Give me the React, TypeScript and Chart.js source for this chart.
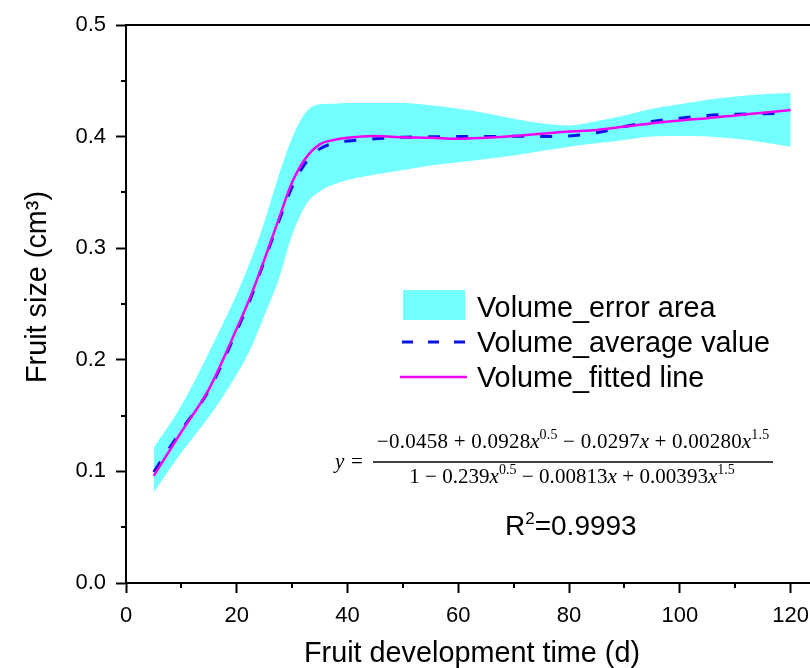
import React, { useEffect, useRef } from 'react';
import { Chart, registerables } from 'chart.js';

Chart.register(...registerables);

// ---- data ----
const days = [5, 10, 15, 20, 22.5, 25, 27.5, 30, 32.5, 35, 37.5, 40, 45, 50, 55, 60, 65, 70, 75, 80, 85, 90, 95, 100, 105, 110, 115, 120];
const averageValue = [0.0995, 0.137, 0.173, 0.226, 0.255, 0.289, 0.323, 0.355, 0.377, 0.389, 0.394, 0.396, 0.398, 0.3995, 0.3998, 0.4, 0.4, 0.4003, 0.4, 0.4005, 0.4035, 0.409, 0.4135, 0.4165, 0.419, 0.42, 0.4205, 0.421];
const fittedLine = [0.096, 0.1355, 0.174, 0.228, 0.257, 0.29, 0.325, 0.359, 0.381, 0.393, 0.397, 0.399, 0.4005, 0.3995, 0.399, 0.398, 0.399, 0.4005, 0.4025, 0.4045, 0.406, 0.409, 0.412, 0.4145, 0.4165, 0.419, 0.4213, 0.4238];
const errorUpper = [0.121, 0.159, 0.207, 0.259, 0.289, 0.324, 0.364, 0.399, 0.422, 0.429, 0.4295, 0.43, 0.43, 0.43, 0.428, 0.425, 0.421, 0.416, 0.412, 0.41, 0.414, 0.419, 0.425, 0.429, 0.433, 0.436, 0.438, 0.439];
const errorLower = [0.081, 0.117, 0.149, 0.187, 0.21, 0.24, 0.271, 0.312, 0.339, 0.351, 0.357, 0.361, 0.366, 0.37, 0.374, 0.377, 0.38, 0.383, 0.387, 0.391, 0.394, 0.397, 0.4, 0.4005, 0.4, 0.398, 0.395, 0.391];

const xTickValues = [0, 20, 40, 60, 80, 100, 120];
const xMinorTicks = [10, 30, 50, 70, 90, 110];
const yTickValues = [0, 0.1, 0.2, 0.3, 0.4, 0.5];
const yMinorTicks = [0.05, 0.15, 0.25, 0.35, 0.45];

const legendLabels = ['Volume_error area', 'Volume_average value', 'Volume_fitted line'];
const xTitle = 'Fruit development time (d)';
const yTitle = 'Fruit size (cm\u00B3)';

const numeratorParts = [
  { t: '\u22120.0458 + 0.0928' }, { t: 'x', i: true }, { t: '0.5', s: true },
  { t: ' \u2212 0.0297' }, { t: 'x', i: true },
  { t: ' + 0.00280' }, { t: 'x', i: true }, { t: '1.5', s: true },
];
const denominatorParts = [
  { t: '1 \u2212 0.239' }, { t: 'x', i: true }, { t: '0.5', s: true },
  { t: ' \u2212 0.00813' }, { t: 'x', i: true },
  { t: ' + 0.00393' }, { t: 'x', i: true }, { t: '1.5', s: true },
];
const rSquaredValue = '0.9993';

const CYAN = 'rgb(115,255,255)';
const BLUE = '#0a14e6';
const MAGENTA = '#f000f0';
const SANS = '"Liberation Sans", Arial, sans-serif';
const SERIF = '"Liberation Serif", "Times New Roman", serif';

type Part = { t: string; i?: boolean; s?: boolean };

function partFont(p: Part, size: number) {
  const sz = p.s ? Math.round(size * 0.68) : size;
  return `${p.i ? 'italic ' : ''}${sz}px ${SERIF}`;
}

function drawParts(ctx: CanvasRenderingContext2D, parts: Part[], cx: number, baseline: number, size: number, spacing: number) {
  let total = 0;
  for (const p of parts) {
    ctx.font = partFont(p, size);
    total += ctx.measureText(p.t).width + (p.t.length - 1) * spacing;
  }
  let x = cx - total / 2;
  ctx.textAlign = 'left';
  ctx.textBaseline = 'alphabetic';
  for (const p of parts) {
    ctx.font = partFont(p, size);
    for (const ch of p.t) {
      ctx.fillText(ch, x, p.s ? baseline - size * 0.42 : baseline);
      x += ctx.measureText(ch).width + spacing;
    }
    x -= spacing;
  }
}

const decorPlugin = {
  id: 'decor',
  afterDraw(chart: any) {
    const ctx: CanvasRenderingContext2D = chart.ctx;
    const xs = chart.scales.x;
    const ys = chart.scales.y;
    const area = chart.chartArea;
    ctx.save();
    ctx.strokeStyle = '#000';
    ctx.lineWidth = 2;
    // top frame line
    ctx.beginPath();
    ctx.moveTo(area.left - 1, area.top);
    ctx.lineTo(area.right, area.top);
    ctx.stroke();
    // minor ticks
    ctx.beginPath();
    for (const v of xMinorTicks) {
      const px = Math.round(xs.getPixelForValue(v));
      ctx.moveTo(px, area.bottom);
      ctx.lineTo(px, area.bottom + 5);
    }
    for (const v of yMinorTicks) {
      const py = Math.round(ys.getPixelForValue(v));
      ctx.moveTo(area.left, py);
      ctx.lineTo(area.left - 5, py);
    }
    ctx.stroke();

    // legend
    ctx.fillStyle = CYAN;
    ctx.fillRect(403, 290, 62, 30);
    ctx.strokeStyle = BLUE;
    ctx.lineWidth = 3;
    ctx.setLineDash([11, 15]);
    ctx.beginPath();
    ctx.moveTo(402, 342);
    ctx.lineTo(468, 342);
    ctx.stroke();
    ctx.setLineDash([]);
    ctx.strokeStyle = MAGENTA;
    ctx.lineWidth = 2.5;
    ctx.beginPath();
    ctx.moveTo(400, 377);
    ctx.lineTo(467, 377);
    ctx.stroke();
    ctx.fillStyle = '#000';
    ctx.font = `28.8px ${SANS}`;
    ctx.textAlign = 'left';
    ctx.textBaseline = 'alphabetic';
    ctx.fillText(legendLabels[0], 477, 317);
    ctx.fillText(legendLabels[1], 477, 352);
    ctx.fillText(legendLabels[2], 477, 387);

    // equation
    ctx.font = `italic 21px ${SERIF}`;
    ctx.fillText('y', 335, 468);
    ctx.font = `21px ${SERIF}`;
    ctx.fillText('=', 351, 468);
    drawParts(ctx, numeratorParts as Part[], 573, 448, 21, 0.25);
    ctx.strokeStyle = '#000';
    ctx.lineWidth = 1.5;
    ctx.beginPath();
    ctx.moveTo(373, 462);
    ctx.lineTo(773, 462);
    ctx.stroke();
    drawParts(ctx, denominatorParts as Part[], 572, 483, 21, 0.05);

    // R^2
    ctx.font = `28px ${SANS}`;
    let rx = 505;
    ctx.fillText('R', rx, 535);
    rx += ctx.measureText('R').width;
    ctx.font = `17px ${SANS}`;
    ctx.fillText('2', rx, 524);
    rx += ctx.measureText('2').width;
    ctx.font = `28px ${SANS}`;
    ctx.fillText('=' + rSquaredValue, rx, 535);

    // axis titles
    ctx.font = `28.8px ${SANS}`;
    ctx.textAlign = 'center';
    ctx.fillText(xTitle, 472, 662);
    ctx.save();
    ctx.translate(46, 287);
    ctx.rotate(-Math.PI / 2);
    ctx.fillText(yTitle, 0, 0);
    ctx.restore();
    ctx.restore();
  },
};

export default function App() {
  const canvasRef = useRef<HTMLCanvasElement | null>(null);

  useEffect(() => {
    const canvas = canvasRef.current;
    if (!canvas) return;
    const pts = (arr: number[]) => days.map((d, k) => ({ x: d, y: arr[k] }));
    const tickFont = { family: SANS, size: 22 };
    const chart = new Chart(canvas, {
      type: 'line',
      data: {
        datasets: [
          {
            label: legendLabels[2],
            data: pts(fittedLine),
            borderColor: MAGENTA,
            borderWidth: 2.5,
            pointRadius: 0,
            fill: false,
            cubicInterpolationMode: 'monotone',
            order: 0,
          },
          {
            label: legendLabels[1],
            data: pts(averageValue),
            borderColor: BLUE,
            borderWidth: 3,
            borderDash: [12, 16],
            pointRadius: 0,
            fill: false,
            cubicInterpolationMode: 'monotone',
            order: 1,
          },
          {
            label: legendLabels[0],
            data: pts(errorUpper),
            borderWidth: 0,
            borderColor: 'rgba(0,0,0,0)',
            backgroundColor: CYAN,
            pointRadius: 0,
            fill: '+1',
            cubicInterpolationMode: 'monotone',
            order: 2,
          },
          {
            label: 'lower',
            data: pts(errorLower),
            borderWidth: 0,
            borderColor: 'rgba(0,0,0,0)',
            pointRadius: 0,
            fill: false,
            cubicInterpolationMode: 'monotone',
            order: 3,
          },
        ],
      },
      options: {
        responsive: false,
        animation: false,
        devicePixelRatio: 1,
        layout: { padding: { top: 25, left: 0, right: 0, bottom: 0 } },
        plugins: {
          legend: { display: false },
          tooltip: { enabled: false },
        },
        scales: {
          x: {
            type: 'linear',
            min: 0,
            max: 123.5,
            afterBuildTicks: (scale: any) => {
              scale.ticks = xTickValues.map((v) => ({ value: v }));
            },
            afterFit: (scale: any) => {
              scale.height = 85;
              scale.paddingLeft = 0;
              scale.paddingRight = 0;
            },
            ticks: {
              font: tickFont,
              color: '#000',
              padding: 10,
              maxRotation: 0,
              autoSkip: false,
              callback: (v: any) => String(v),
            },
            grid: {
              display: true,
              drawOnChartArea: false,
              drawTicks: true,
              tickLength: 10,
              tickWidth: 2,
              tickColor: '#000',
            },
            border: { display: true, color: '#000', width: 2 },
          },
          y: {
            type: 'linear',
            min: 0,
            max: 0.5,
            afterBuildTicks: (scale: any) => {
              scale.ticks = yTickValues.map((v) => ({ value: v }));
            },
            afterFit: (scale: any) => {
              scale.width = 126;
              scale.paddingTop = 0;
              scale.paddingBottom = 0;
            },
            ticks: {
              font: tickFont,
              color: '#000',
              padding: 10,
              callback: (v: any) => Number(v).toFixed(1),
            },
            grid: {
              display: true,
              drawOnChartArea: false,
              drawTicks: true,
              tickLength: 10,
              tickWidth: 2,
              tickColor: '#000',
            },
            border: { display: true, color: '#000', width: 2 },
          },
        },
      },
      plugins: [decorPlugin],
    } as any);
    return () => chart.destroy();
  }, []);

  return (
    <div style={{ position: 'absolute', left: 0, top: 0, width: 810, height: 668, background: '#fff' }}>
      <canvas ref={canvasRef} width={810} height={668} style={{ display: 'block', width: 810, height: 668 }} />
    </div>
  );
}
